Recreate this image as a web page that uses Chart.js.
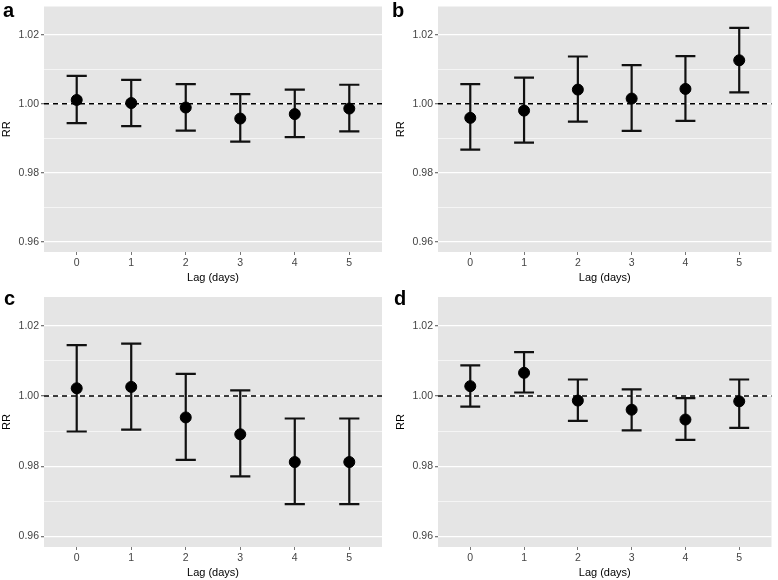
<!DOCTYPE html>
<html>
<head>
<meta charset="utf-8">
<script src="https://cdn.jsdelivr.net/npm/chart.js@4"></script>
<style>
  body { margin: 0; background: #fff; }
  #wrap { position: relative; width: 778px; height: 580px; font-family: "Liberation Sans", Arial, sans-serif; }
  canvas { position: absolute; }
  .tag { position: absolute; font-weight: bold; font-size: 20px; line-height: 20px; color: #000; }
</style>
</head>
<body>
<div id="wrap">
  <canvas id="panel-a" width="389" height="290" style="left:0;top:0"></canvas>
  <canvas id="panel-b" width="389" height="290" style="left:389px;top:0"></canvas>
  <canvas id="panel-c" width="389" height="290" style="left:0;top:290px"></canvas>
  <canvas id="panel-d" width="389" height="290" style="left:389px;top:290px"></canvas>
  <div class="tag" style="left:3px;top:0">a</div>
  <div class="tag" style="left:392px;top:0">b</div>
  <div class="tag" style="left:4px;top:288px">c</div>
  <div class="tag" style="left:394px;top:288px">d</div>
</div>
<script>
const LAGS = [0, 1, 2, 3, 4, 5];
const Y_TICKS = [0.96, 0.97, 0.98, 0.99, 1.00, 1.01, 1.02];

const RR_A    = [1.0011, 1.0002, 0.9989, 0.9957, 0.9970, 0.9986];
const LOWER_A = [0.9944, 0.9935, 0.9922, 0.9890, 0.9903, 0.9920];
const UPPER_A = [1.0081, 1.0069, 1.0057, 1.0028, 1.0041, 1.0055];

const RR_B    = [0.9959, 0.9980, 1.0041, 1.0015, 1.0043, 1.0126];
const LOWER_B = [0.9867, 0.9887, 0.9948, 0.9921, 0.9950, 1.0033];
const UPPER_B = [1.0057, 1.0076, 1.0137, 1.0112, 1.0138, 1.0220];

const RR_C    = [1.0022, 1.0026, 0.9939, 0.9891, 0.9812, 0.9812];
const LOWER_C = [0.9899, 0.9904, 0.9818, 0.9771, 0.9692, 0.9692];
const UPPER_C = [1.0145, 1.0149, 1.0063, 1.0016, 0.9936, 0.9936];

const RR_D    = [1.0028, 1.0066, 0.9987, 0.9961, 0.9933, 0.9985];
const LOWER_D = [0.9970, 1.0010, 0.9929, 0.9902, 0.9875, 0.9909];
const UPPER_D = [1.0087, 1.0125, 1.0047, 1.0019, 0.9994, 1.0047];

const FONT = '"Liberation Sans", Arial, sans-serif';
const isMajor = v => Math.round(v * 100) % 2 === 0;

// grey panel, reference line and error bars (drawn before the points)
const panelPlugin = {
  id: 'panel',
  beforeDraw(chart) {
    const { ctx, chartArea: a } = chart;
    ctx.save();
    ctx.fillStyle = '#E5E5E5';
    ctx.fillRect(a.left, a.top, a.width, a.height);
    ctx.restore();
  },
  beforeDatasetsDraw(chart) {
    const { ctx, chartArea: a, scales: { x, y } } = chart;
    const bars = chart.options.plugins.panel;
    ctx.save();
    ctx.strokeStyle = '#000';
    ctx.lineWidth = 1.6;
    ctx.setLineDash([5, 4]);
    const y1 = y.getPixelForValue(1);
    ctx.beginPath();
    ctx.moveTo(a.left, y1);
    ctx.lineTo(a.right, y1);
    ctx.stroke();
    ctx.setLineDash([]);
    ctx.lineWidth = 2.2;
    ctx.strokeStyle = '#111';
    LAGS.forEach((lag, i) => {
      const xc = x.getPixelForValue(lag);
      const xl = x.getPixelForValue(lag - 0.185);
      const xr = x.getPixelForValue(lag + 0.185);
      const yl = y.getPixelForValue(bars.lower[i]);
      const yu = y.getPixelForValue(bars.upper[i]);
      ctx.beginPath();
      ctx.moveTo(xc, yl); ctx.lineTo(xc, yu);
      ctx.moveTo(xl, yl); ctx.lineTo(xr, yl);
      ctx.moveTo(xl, yu); ctx.lineTo(xr, yu);
      ctx.stroke();
    });
    ctx.restore();
  }
};

function addPanel(id, rr, lower, upper, pad, yWidth) {
  const ctx = document.getElementById(id);
  new Chart(ctx, {
    type: 'scatter',
    data: {
      datasets: [{
        data: LAGS.map((lag, i) => ({ x: lag, y: rr[i] })),
        backgroundColor: '#000',
        borderColor: '#000',
        pointRadius: 5.5,
        pointHoverRadius: 5.5
      }]
    },
    plugins: [panelPlugin],
    options: {
      responsive: false,
      animation: false,
      events: [],
      layout: { padding: pad },
      plugins: {
        legend: { display: false },
        tooltip: { enabled: false },
        panel: { lower: lower, upper: upper }
      },
      scales: {
        x: {
          type: 'linear',
          min: -0.6,
          max: 5.6,
          afterBuildTicks: s => { s.ticks = LAGS.map(v => ({ value: v })); },
          afterFit: s => { s.height = 33; s.paddingLeft = 0; s.paddingRight = 0; },
          border: { display: false },
          grid: { drawOnChartArea: false, tickLength: 3, tickColor: '#777' },
          ticks: { padding: 2, color: '#444', font: { family: FONT, size: 10.5 }, maxRotation: 0 },
          title: { display: true, text: 'Lag (days)', color: '#000', padding: 0, font: { family: FONT, size: 11 } }
        },
        y: {
          min: 0.957,
          max: 1.0282,
          afterBuildTicks: s => { s.ticks = Y_TICKS.map(v => ({ value: v })); },
          afterFit: s => { s.width = yWidth; s.paddingTop = 0; s.paddingBottom = 0; },
          border: { display: false },
          grid: {
            color: '#FFFFFF',
            lineWidth: c => isMajor(c.tick.value) ? 1.3 : 0.6,
            tickColor: c => isMajor(c.tick.value) ? '#777' : 'rgba(0,0,0,0)',
            tickLength: 3
          },
          ticks: {
            padding: 2,
            color: '#444',
            font: { family: FONT, size: 10.5 },
            callback: v => isMajor(v) ? v.toFixed(2) : ''
          },
          title: { display: true, text: 'RR', color: '#000', padding: 0, font: { family: FONT, size: 11 } }
        }
      }
    }
  });
}

addPanel('panel-a', RR_A, LOWER_A, UPPER_A, { left: 0, right: 7, top: 2, bottom: 5 }, 44);
addPanel('panel-b', RR_B, LOWER_B, UPPER_B, { left: 5, right: 3, top: 2, bottom: 5 }, 44);
addPanel('panel-c', RR_C, LOWER_C, UPPER_C, { left: 0, right: 7, top: 7, bottom: 0 }, 44);
addPanel('panel-d', RR_D, LOWER_D, UPPER_D, { left: 5, right: 2, top: 7, bottom: 0 }, 44);
</script>
</body>
</html>
